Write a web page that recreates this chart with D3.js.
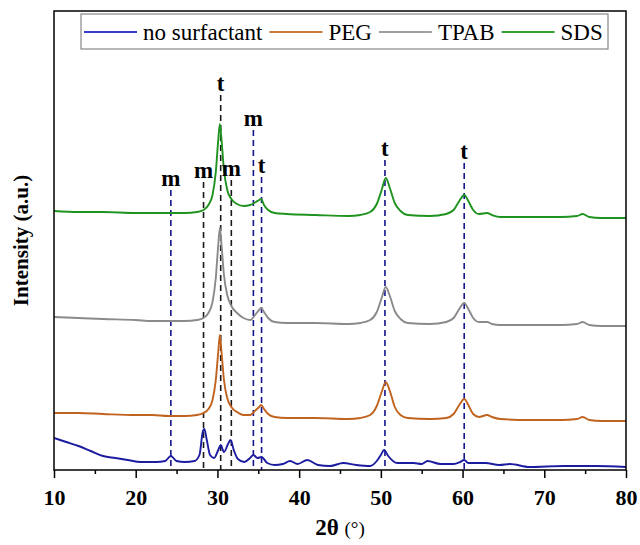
<!DOCTYPE html>
<style>
body { margin: 0; background: #fff; }
text { font-family: "Liberation Serif", "Times New Roman", serif; }
</style>
<script src="https://d3js.org/d3.v7.min.js"></script>
<body>
<script>

var width = 640,
    height = 545;

// 2θ / intensity (a.u.)
var sdsTheta   = [10,13,16,20,22,24,26,27.5,28.3,28.9,29.4,29.8,30.1,30.3,30.5,30.8,31.2,31.7,32.4,33.2,34,34.7,35.1,35.35,35.7,36.2,37,38.5,42,46,47.5,48.7,49.5,50.1,50.6,51.1,51.7,52.4,53.3,56,58,58.9,59.6,60.2,60.7,61.3,62,63,63.6,64.6,68,72,74,74.7,75.5,77,80];
var sdsI       = [259,258,258,257,257,257,257,258,260,265,275,298,330,346,330,300,280,271,266,264,265,268,270,271,265,260,257,256,255,254,255,258,266,280,292,282,267,259,255,254,256,260,269,275,269,260,256,257,255,253,253,253,254,256,253,252,252];
var tpabI      = [153,152,151,150,149,149,149,150,152,157,168,192,225,242,225,195,175,164,157,152,150,156,160,162,158,152,148,147,147,146,147,150,158,172,183,174,159,151,147,146,148,152,161,167,161,152,148,148,146,145,145,145,146,148,145,144,144];
var pegI       = [57,57,56,55,55,54,54,55,57,61,70,90,118,135,118,90,72,63,58,55,55,60,63,65,61,56,53,52,52,51,52,55,64,78,88,79,63,55,52,51,52,56,65,71,65,56,53,55,53,51,50,50,51,53,50,49,49];

var noneTheta  = [10,11.5,13,14.5,16,17.5,19,20.6,22.5,23.6,24.3,25,26,27.2,27.8,28.2,28.4,28.7,29.1,29.6,30.1,30.4,30.8,31.3,31.6,32,32.5,33.3,34,34.4,34.9,35.4,36.1,37,38,38.9,39.8,41,42.3,43.8,45.4,47,48.7,49.5,50,50.4,50.9,52,53,54,55,55.7,57.3,58.9,59.7,60.2,60.7,61.3,62.8,64.5,65.8,68.2,72.3,76.4,80];
var noneI      = [32,28,24,19,14,12,10,8,8,9,14,9,8,9,15,38,41,30,15,12,20,25,18,26,30,20,11,8,12,15,12,13,7,5,6,9,6,10,5,4,7,5,4,9,15,20,14,7,7,7,6,9,6,6,8,10,7,7,7,5,6,3,4,4,3];

var seriesNames = ["no surfactant", "PEG", "TPAB", "SDS"];
var seriesColors = ["#1c1ca0", "#c0631e", "#8a8a8a", "#1f931f"];
var legendColors = ["#3a3acc", "#c97a3a", "#a0a0a0", "#35a035"];

// reflections: position, phase, where the dashed marker starts
var markPos   = [24.3, 28.3, 30.4, 31.7, 34.4, 35.4, 50.5, 60.2];
var markLabel = ["m", "m", "t", "m", "m", "t", "t", "t"];
var markSet   = ["a", "b", "b", "b", "a", "a", "a", "a"];
var markTop   = [280, 288, 375, 290, 340, 293, 310, 307];

var xTicks = [10, 20, 30, 40, 50, 60, 70, 80];
var xMinor = [15, 25, 35, 45, 55, 65, 75];

var margin = {left: 54, right: 14, top: 11, bottom: 75};

var svg = d3.select("body").append("svg")
    .attr("width", width)
    .attr("height", height);

var x = d3.scaleLinear()
    .domain([10, 80])
    .range([margin.left, width - margin.right]);

var y = d3.scaleLinear()
    .domain([0, 459])
    .range([height - margin.bottom, margin.top]);

svg.append("clipPath").attr("id", "clip")
  .append("rect")
    .attr("x", x(10)).attr("y", y(459))
    .attr("width", x(80) - x(10)).attr("height", y(0) - y(459));

function zip(t, v) { return t.map(function(d, i) { return [d, v[i]]; }); }

var series = [zip(noneTheta, noneI), zip(sdsTheta, pegI), zip(sdsTheta, tpabI), zip(sdsTheta, sdsI)];

var line = d3.line()
    .x(function(d) { return x(d[0]); })
    .y(function(d) { return y(d[1]); })
    .curve(d3.curveMonotoneX);

var markColor = d3.scaleOrdinal().domain(["a", "b"]).range(["#14148c", "#1a1a1a"]);

// dashed reflection markers
svg.append("g").selectAll("line")
  .data(markPos)
  .enter().append("line")
    .attr("x1", function(d) { return x(d); })
    .attr("x2", function(d) { return x(d); })
    .attr("y1", function(d, i) { return y(markTop[i]); })
    .attr("y2", y(0))
    .attr("stroke", function(d, i) { return markColor(markSet[i]); })
    .attr("stroke-width", 1.6)
    .attr("stroke-dasharray", "6,4");

svg.append("g").attr("clip-path", "url(#clip)")
  .selectAll("path")
  .data(series)
  .enter().append("path")
    .attr("d", line)
    .attr("fill", "none")
    .attr("stroke", function(d, i) { return seriesColors[i]; })
    .attr("stroke-width", 1.9);

svg.append("g").selectAll("text")
  .data(markPos)
  .enter().append("text")
    .attr("x", function(d) { return x(d); })
    .attr("y", function(d, i) { return y(markTop[i]) - 4; })
    .attr("text-anchor", "middle")
    .attr("font-weight", "bold")
    .attr("font-size", 23)
    .text(function(d, i) { return markLabel[i]; });

// frame
svg.append("rect")
    .attr("x", x(10)).attr("y", y(459))
    .attr("width", x(80) - x(10)).attr("height", y(0) - y(459))
    .attr("fill", "none")
    .attr("stroke", "#000")
    .attr("stroke-width", 1.5);

var gx = svg.append("g")
    .attr("transform", "translate(0," + y(0) + ")");

gx.call(d3.axisBottom(x).tickValues(xMinor).tickSize(4).tickFormat(""))
  .select(".domain").remove();

var gx2 = svg.append("g")
    .attr("transform", "translate(0," + y(0) + ")")
    .call(d3.axisBottom(x).tickValues(xTicks).tickSize(8).tickPadding(11));
gx2.select(".domain").remove();
gx2.selectAll("text")
    .attr("font-weight", "bold")
    .attr("font-size", 22)
    .attr("fill", "#000");
svg.selectAll(".tick line").attr("stroke", "#000").attr("stroke-width", 1.5);

var xt = svg.append("text")
    .attr("x", (x(10) + x(80)) / 2)
    .attr("y", 535)
    .attr("text-anchor", "middle");
xt.append("tspan").attr("font-weight", "bold").attr("font-size", 23).text("2θ ");
xt.append("tspan").attr("font-size", 19).text("(°)");

svg.append("text")
    .attr("transform", "translate(28," + (y(0) + y(459)) / 2 + ") rotate(-90)")
    .attr("text-anchor", "middle")
    .attr("font-weight", "bold")
    .attr("font-size", 21)
    .text("Intensity (a.u.)");

// legend
var lg = svg.append("g");
lg.append("rect")
    .attr("x", 81).attr("y", 14)
    .attr("width", 527).attr("height", 35)
    .attr("fill", "#fff")
    .attr("stroke", "#888")
    .attr("stroke-width", 1.2);

var lx = 84;
seriesNames.forEach(function(name, i) {
  lg.append("line")
      .attr("x1", lx).attr("x2", lx + 53)
      .attr("y1", 32).attr("y2", 32)
      .attr("stroke", legendColors[i])
      .attr("stroke-width", 1.8);
  var t = lg.append("text")
      .attr("x", lx + 59)
      .attr("y", 40)
      .attr("font-size", 23)
      .text(name);
  lx = lx + 59 + t.node().getComputedTextLength() + 7;
});

</script>
</body>
